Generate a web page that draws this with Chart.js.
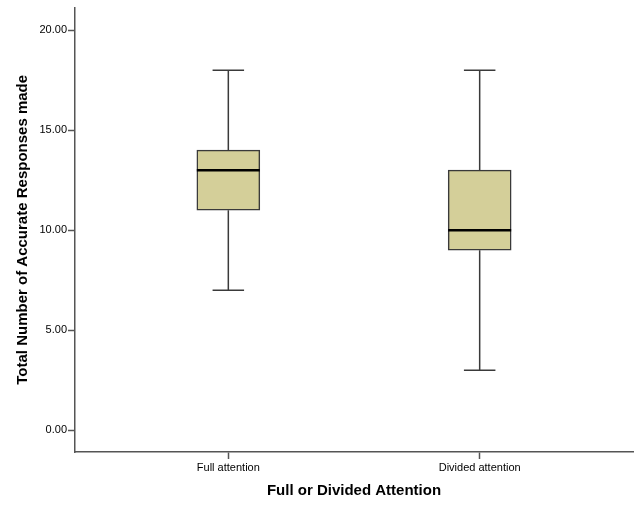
<!DOCTYPE html>
<html>
<head>
<meta charset="utf-8">
<script src="https://cdn.jsdelivr.net/npm/chart.js@4.4.0/dist/chart.umd.min.js"></script>
<style>
  html, body { margin: 0; padding: 0; background: #fff; }
  #wrap { width: 640px; height: 512px; position: relative; }
</style>
</head>
<body>
<div id="wrap"><canvas id="c"></canvas></div>
<script>
const categories = ['Full attention', 'Divided attention'];
const whiskerLow = [7, 3];
const q1 = [11, 9];
const medians = [13, 10];
const q3 = [14, 13];
const whiskerHigh = [18, 18];
const yTicks = [0, 5, 10, 15, 20];

const boxData = categories.map((c, i) => ({ x: i + 1, y: [q1[i], q3[i]] }));

const boxPlugin = {
  id: 'boxExtras',
  afterDatasetsDraw(chart) {
    const ctx = chart.ctx;
    const xs = chart.scales.x, ys = chart.scales.y;
    const meta = chart.getDatasetMeta(0);
    ctx.save();
    categories.forEach((c, i) => {
      const el = meta.data[i];
      const cx = xs.getPixelForValue(i + 1);
      const half = el.width / 2;
      const capHalf = half / 2;
      const yLo = ys.getPixelForValue(whiskerLow[i]);
      const yQ1 = ys.getPixelForValue(q1[i]);
      const yQ3 = ys.getPixelForValue(q3[i]);
      const yHi = ys.getPixelForValue(whiskerHigh[i]);
      const yMed = ys.getPixelForValue(medians[i]);
      ctx.strokeStyle = '#3a3a3a';
      ctx.lineWidth = 1.5;
      ctx.beginPath();
      ctx.moveTo(cx, yQ3); ctx.lineTo(cx, yHi);
      ctx.moveTo(cx - capHalf, yHi); ctx.lineTo(cx + capHalf, yHi);
      ctx.moveTo(cx, yQ1); ctx.lineTo(cx, yLo);
      ctx.moveTo(cx - capHalf, yLo); ctx.lineTo(cx + capHalf, yLo);
      ctx.stroke();
      ctx.strokeStyle = '#000';
      ctx.lineWidth = 2.5;
      ctx.beginPath();
      ctx.moveTo(cx - half, yMed); ctx.lineTo(cx + half, yMed);
      ctx.stroke();
    });
    ctx.restore();
  }
};

new Chart(document.getElementById('c'), {
  type: 'bar',
  data: {
    datasets: [{
      data: boxData,
      backgroundColor: '#D4CF99',
      borderColor: '#3a3a3a',
      borderWidth: 1.5,
      borderSkipped: false,
      barThickness: 63
    }]
  },
  options: {
    responsive: true,
    maintainAspectRatio: false,
    animation: false,
    layout: { padding: { top: 5, right: 7, left: 0, bottom: 0 } },
    plugins: { legend: { display: false }, tooltip: { enabled: false } },
    scales: {
      x: {
        type: 'linear',
        offset: false,
        min: 0.39,
        max: 2.61,
        afterBuildTicks: s => { s.ticks = categories.map((c, i) => ({ value: i + 1 })); },
        afterFit: s => { s.height = 60; },
        ticks: {
          callback: v => categories[v - 1] || '',
          color: '#000',
          font: { family: 'Liberation Sans, Arial, sans-serif', size: 11 },
          padding: 2,
          maxRotation: 0,
          autoSkip: false
        },
        grid: { offset: false, drawOnChartArea: false, drawTicks: true, tickLength: 7, tickColor: '#555', tickWidth: 1.5 },
        border: { display: true, color: '#555', width: 1.5 },
        title: {
          display: true,
          text: 'Full or Divided Attention',
          color: '#000',
          font: { family: 'Liberation Sans, Arial, sans-serif', size: 15, weight: 'bold' },
          padding: { top: 0, bottom: 12 }
        }
      },
      y: {
        min: -1.09,
        max: 21.13,
        afterBuildTicks: s => { s.ticks = yTicks.map(v => ({ value: v })); },
        afterFit: s => { s.width = 75; },
        ticks: {
          callback: v => Number(v).toFixed(2),
          color: '#000',
          font: { family: 'Liberation Sans, Arial, sans-serif', size: 11 },
          padding: 1
        },
        grid: { drawOnChartArea: false, drawTicks: true, tickLength: 7, tickColor: '#555', tickWidth: 1.5 },
        border: { display: true, color: '#555', width: 1.5 },
        title: {
          display: true,
          text: 'Total Number of Accurate Responses made',
          color: '#000',
          font: { family: 'Liberation Sans, Arial, sans-serif', size: 15, weight: 'bold' },
          padding: { top: 14, bottom: 0 }
        }
      }
    }
  },
  plugins: [boxPlugin]
});
</script>
</body>
</html>
